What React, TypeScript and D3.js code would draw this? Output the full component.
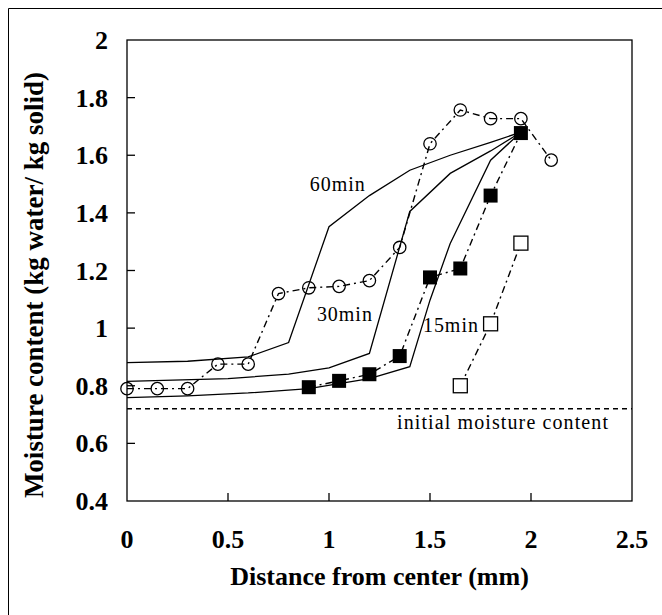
import React from "react";
import * as d3 from "d3";

// ---- data ----
const xTicks = [0, 0.5, 1, 1.5, 2, 2.5];
const xTickLabels = ["0", "0.5", "1", "1.5", "2", "2.5"];
const yTicks = [0.4, 0.6, 0.8, 1, 1.2, 1.4, 1.6, 1.8, 2];
const yTickLabels = ["0.4", "0.6", "0.8", "1", "1.2", "1.4", "1.6", "1.8", "2"];

// measured: open circles
const circleX = [0, 0.15, 0.3, 0.45, 0.6, 0.75, 0.9, 1.05, 1.2, 1.35, 1.5, 1.65, 1.8, 1.95, 2.1];
const circleY = [0.79, 0.79, 0.79, 0.875, 0.875, 1.12, 1.14, 1.145, 1.165, 1.28, 1.64, 1.757, 1.727, 1.727, 1.583];
// measured: filled squares
const filledX = [0.9, 1.05, 1.2, 1.35, 1.5, 1.65, 1.8, 1.95];
const filledY = [0.795, 0.817, 0.84, 0.903, 1.176, 1.207, 1.46, 1.677];
// measured: open squares
const openX = [1.65, 1.8, 1.95];
const openY = [0.8, 1.015, 1.295];

// model curves
const model60X = [0, 0.3, 0.6, 0.8, 1.0, 1.2, 1.4, 1.6, 1.8, 1.95];
const model60Y = [0.88, 0.885, 0.9, 0.95, 1.352, 1.46, 1.548, 1.6, 1.645, 1.68];
const model30X = [0, 0.5, 0.8, 1.0, 1.2, 1.4, 1.6, 1.8, 1.95];
const model30Y = [0.815, 0.825, 0.84, 0.862, 0.912, 1.405, 1.537, 1.615, 1.68];
const model15X = [0, 0.3, 0.6, 0.9, 1.2, 1.4, 1.5, 1.6, 1.8, 1.95];
const model15Y = [0.759, 0.765, 0.775, 0.79, 0.825, 0.866, 1.097, 1.294, 1.583, 1.68];

const initialMoisture = 0.72;

const curveLabels = ["60min", "30min", "15min"];
const curveLabelX = [0.905, 0.94, 1.465];
const curveLabelY = [1.475, 1.025, 0.986];

const W = 662;
const H = 615;
const M = { left: 127, right: 632, top: 40, bottom: 501 };

const SERIF = "Liberation Serif, Times New Roman, Times, DejaVu Serif, serif";

export default function App() {
  const x = d3.scaleLinear().domain([0, 2.5]).range([M.left, M.right]);
  const y = d3.scaleLinear().domain([0.4, 2]).range([M.bottom, M.top]);
  const line = d3
    .line<[number, number]>()
    .x((d) => x(d[0]))
    .y((d) => y(d[1]));
  const zip = (a: number[], b: number[]) => a.map((v, i) => [v, b[i]] as [number, number]);

  const sq = 14;
  const bold = { fontFamily: SERIF, fontWeight: 700, fontSize: "26px" } as React.CSSProperties;
  const reg = { fontFamily: SERIF, fontWeight: 400, fontSize: "20px" } as React.CSSProperties;

  return (
    <svg
      width={W}
      height={H}
      style={{ position: "absolute", left: 0, top: 0, background: "#fff", fontFamily: SERIF }}
    >
      <rect x={0} y={0} width={W} height={H} fill="#fff" />
      {/* outer frame (left & top) */}
      <line x1={8.5} y1={8.5} x2={W} y2={8.5} stroke="#000" strokeWidth={1} />
      <line x1={8.5} y1={8.5} x2={8.5} y2={H} stroke="#000" strokeWidth={1} />

      {/* plot frame */}
      <rect
        x={M.left}
        y={M.top}
        width={M.right - M.left}
        height={M.bottom - M.top}
        fill="none"
        stroke="#000"
        strokeWidth={1.3}
      />
      {/* inner ticks */}
      {yTicks.slice(1, -1).map((t, i) => (
        <line key={"yt" + i} x1={M.left} x2={M.left + 8} y1={y(t)} y2={y(t)} stroke="#000" strokeWidth={1.3} />
      ))}
      {xTicks.slice(1, -1).map((t, i) => (
        <line key={"xt" + i} x1={x(t)} x2={x(t)} y1={M.bottom} y2={M.bottom - 8} stroke="#000" strokeWidth={1.3} />
      ))}

      {/* tick labels */}
      {yTicks.map((t, i) => (
        <text key={"yl" + i} x={108} y={y(t) + 9} textAnchor="end" style={bold}>
          {yTickLabels[i]}
        </text>
      ))}
      {xTicks.map((t, i) => (
        <text key={"xl" + i} x={x(t)} y={548} textAnchor="middle" style={bold}>
          {xTickLabels[i]}
        </text>
      ))}

      {/* axis titles */}
      <text x={(M.left + M.right) / 2} y={585} textAnchor="middle" style={bold}>
        Distance from center (mm)
      </text>
      <text
        transform={`translate(43,285) rotate(-90)`}
        textAnchor="middle"
        style={{ ...bold, fontSize: "27px" }}
      >
        Moisture content (kg water/ kg solid)
      </text>

      {/* initial moisture line */}
      <line
        x1={x(0)}
        x2={x(2.5)}
        y1={y(initialMoisture)}
        y2={y(initialMoisture)}
        stroke="#000"
        strokeWidth={1.5}
        strokeDasharray="5,4"
      />
      <text x={397} y={429} style={reg} textLength={211} lengthAdjust="spacing">
        initial moisture content
      </text>

      {/* model curves */}
      {[zip(model60X, model60Y), zip(model30X, model30Y), zip(model15X, model15Y)].map((d, i) => (
        <path key={"m" + i} d={line(d) || ""} fill="none" stroke="#000" strokeWidth={1.3} />
      ))}
      {curveLabels.map((l, i) => (
        <text
          key={"cl" + i}
          x={x(curveLabelX[i])}
          y={y(curveLabelY[i])}
          style={reg}
          textLength={55}
          lengthAdjust="spacing"
        >
          {l}
        </text>
      ))}

      {/* experimental series: dash-dot lines */}
      {[zip(circleX, circleY), zip(filledX, filledY), zip(openX, openY)].map((d, i) => (
        <path
          key={"e" + i}
          d={line(d) || ""}
          fill="none"
          stroke="#000"
          strokeWidth={1.4}
          strokeDasharray="7,4,2,4"
        />
      ))}

      {/* markers */}
      {circleX.map((v, i) => (
        <circle key={"c" + i} cx={x(v)} cy={y(circleY[i])} r={6.2} fill="none" stroke="#000" strokeWidth={1.3} />
      ))}
      {filledX.map((v, i) => (
        <rect key={"f" + i} x={x(v) - sq / 2} y={y(filledY[i]) - sq / 2} width={sq} height={sq} fill="#000" />
      ))}
      {openX.map((v, i) => (
        <rect
          key={"o" + i}
          x={x(v) - sq / 2}
          y={y(openY[i]) - sq / 2}
          width={sq}
          height={sq}
          fill="#fff"
          stroke="#000"
          strokeWidth={1.3}
        />
      ))}
    </svg>
  );
}
